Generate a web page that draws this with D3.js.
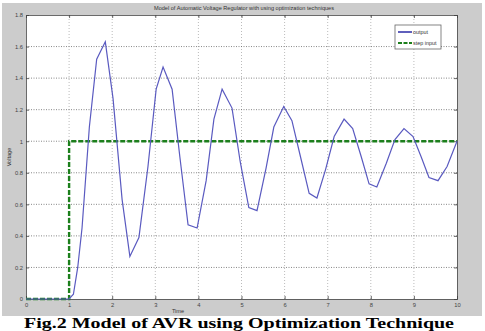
<!DOCTYPE html>
<html>
<head>
<meta charset="utf-8">
<script src="https://cdn.jsdelivr.net/npm/d3@7"></script>
<style>
  body { margin: 0; background: #fff; }
  svg { display: block; }
</style>
</head>
<body>
<div id="chart"></div>
<script>
// AVR step response
const timeValues = [0, 1, 1.1, 1.2, 1.3, 1.47, 1.64, 1.84, 2.02, 2.23, 2.41, 2.62, 2.83, 3.02, 3.18,
  3.39, 3.57, 3.76, 3.97, 4.18, 4.36, 4.55, 4.78, 4.97, 5.17, 5.36, 5.57, 5.75, 5.98, 6.17,
  6.37, 6.57, 6.75, 6.95, 7.15, 7.38, 7.58, 7.78, 7.96, 8.14, 8.36, 8.56, 8.77, 8.98, 9.17,
  9.35, 9.56, 9.77, 10];
const outputValues = [0, 0, 0.03, 0.2, 0.45, 1.09, 1.52, 1.63, 1.27, 0.63, 0.27, 0.39, 0.84, 1.33, 1.47,
  1.33, 0.9, 0.47, 0.45, 0.75, 1.14, 1.33, 1.21, 0.87, 0.58, 0.56, 0.83, 1.09, 1.22, 1.13,
  0.9, 0.67, 0.64, 0.82, 1.03, 1.14, 1.08, 0.9, 0.73, 0.71, 0.86, 1.01, 1.08, 1.03, 0.9,
  0.77, 0.75, 0.84, 1.0];
const stepTimes = [0, 1, 1, 10];
const stepValues = [0, 0, 1, 1];
const xTicks = [0, 1, 2, 3, 4, 5, 6, 7, 8, 9, 10];
const yTicks = [0, 0.2, 0.4, 0.6, 0.8, 1, 1.2, 1.4, 1.6, 1.8];
const legendLabels = ["output", "step input"];

const width = 485, height = 331;
const margin = { left: 26, right: 28, top: 15, bottom: 32 };

const svg = d3.select("#chart").append("svg")
  .attr("width", width)
  .attr("height", height);

// grey figure background
svg.append("rect")
  .attr("x", 2).attr("y", 3)
  .attr("width", 480).attr("height", 313)
  .attr("fill", "#cccccc");

const x = d3.scaleLinear().domain([0, 10]).range([margin.left, width - margin.right]);
const y = d3.scaleLinear().domain([0, 1.8]).range([height - margin.bottom, margin.top]);

svg.append("rect")
  .attr("x", x(0)).attr("y", y(1.8))
  .attr("width", x(10) - x(0)).attr("height", y(0) - y(1.8))
  .attr("fill", "#fff");

// grid
svg.append("g").selectAll("line")
  .data(xTicks.slice(1, -1))
  .join("line")
  .attr("x1", d => x(d)).attr("x2", d => x(d))
  .attr("y1", y(0)).attr("y2", y(1.8))
  .attr("stroke", "#aaa").attr("stroke-width", 0.8)
  .attr("stroke-dasharray", "1,2");
svg.append("g").selectAll("line")
  .data(yTicks.slice(1, -1))
  .join("line")
  .attr("x1", x(0)).attr("x2", x(10))
  .attr("y1", d => y(d)).attr("y2", d => y(d))
  .attr("stroke", "#555").attr("stroke-width", 0.7)
  .attr("stroke-dasharray", "1,1.5");

// axes (inward ticks, MATLAB style)
const fmt = d => d3.format("~g")(d);
svg.append("g")
  .attr("transform", `translate(0,${y(0)})`)
  .call(d3.axisBottom(x).tickValues(xTicks).tickSize(-3).tickPadding(4).tickFormat(fmt));
svg.append("g")
  .attr("transform", `translate(${x(0)},0)`)
  .call(d3.axisLeft(y).tickValues(yTicks).tickSize(-3).tickPadding(3).tickFormat(fmt));
svg.append("g")
  .attr("transform", `translate(0,${y(1.8)})`)
  .call(d3.axisTop(x).tickValues(xTicks).tickSize(-3).tickFormat(""));
svg.append("g")
  .attr("transform", `translate(${x(10)},0)`)
  .call(d3.axisRight(y).tickValues(yTicks).tickSize(-3).tickFormat(""));
svg.selectAll(".domain").attr("stroke", "#444").attr("stroke-width", 0.8);
svg.selectAll(".tick line").attr("stroke", "#444").attr("stroke-width", 0.8);
svg.selectAll(".tick text")
  .attr("font-family", "Liberation Sans, Arial, sans-serif")
  .attr("font-size", 5.8).attr("fill", "#444");

// lines
const pts = (ts, vs) => ts.map((t, i) => [t, vs[i]]);
const line = d3.line().x(d => x(d[0])).y(d => y(d[1]));

svg.append("path")
  .datum(pts(stepTimes, stepValues))
  .attr("d", line)
  .attr("fill", "none")
  .attr("stroke", "#1c7f1c")
  .attr("stroke-width", 2.4)
  .attr("stroke-dasharray", "5,2");

svg.append("path")
  .datum(pts(timeValues, outputValues))
  .attr("d", line)
  .attr("fill", "none")
  .attr("stroke", "#5a5ac0")
  .attr("stroke-width", 1.2);

// title and labels
svg.append("text")
  .attr("x", 244).attr("y", 10)
  .attr("text-anchor", "middle")
  .attr("font-family", "Liberation Sans, Arial, sans-serif")
  .attr("font-size", 5.6).attr("fill", "#333")
  .text("Model of Automatic Voltage Regulator with using optimization techniques");

svg.append("text")
  .attr("x", 178).attr("y", 313)
  .attr("text-anchor", "middle")
  .attr("font-family", "Liberation Sans, Arial, sans-serif")
  .attr("font-size", 5.6).attr("fill", "#333")
  .text("Time");

svg.append("text")
  .attr("transform", `translate(11,${y(0.9)}) rotate(-90)`)
  .attr("text-anchor", "middle")
  .attr("font-family", "Liberation Sans, Arial, sans-serif")
  .attr("font-size", 5.6).attr("fill", "#333")
  .text("Voltage");

// legend
const legend = svg.append("g").attr("transform", "translate(395,25)");
legend.append("rect")
  .attr("width", 46).attr("height", 24)
  .attr("fill", "#fff").attr("stroke", "#666").attr("stroke-width", 0.8);
const legendStyles = [
  { color: "#1a1aa0", width: 1.4, dash: null },
  { color: "#1c7f1c", width: 2.2, dash: "4,1.5" }
];
legendLabels.forEach((lab, i) => {
  const ly = 7 + i * 11;
  legend.append("line")
    .attr("x1", 3).attr("x2", 17).attr("y1", ly).attr("y2", ly)
    .attr("stroke", legendStyles[i].color)
    .attr("stroke-width", legendStyles[i].width)
    .attr("stroke-dasharray", legendStyles[i].dash);
  legend.append("text")
    .attr("x", 18).attr("y", ly + 2)
    .attr("font-family", "Liberation Sans, Arial, sans-serif")
    .attr("font-size", 5.4).attr("fill", "#333")
    .text(lab);
});

// caption below the figure
svg.append("text")
  .attr("x", 239).attr("y", 327.5)
  .attr("text-anchor", "middle")
  .attr("font-family", "Liberation Serif, Times New Roman, serif")
  .attr("font-weight", "bold")
  .attr("font-size", 15.5).attr("fill", "#000")
  .attr("textLength", 430)
  .attr("lengthAdjust", "spacingAndGlyphs")
  .text("Fig.2 Model of AVR using Optimization Technique");
</script>
</body>
</html>
